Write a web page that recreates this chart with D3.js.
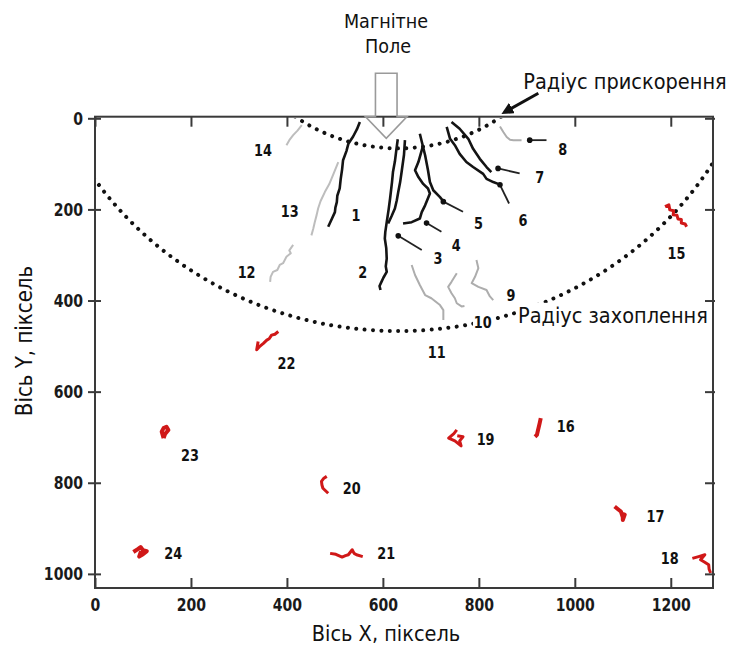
<!DOCTYPE html>
<html>
<head>
<meta charset="utf-8">
<script src="https://cdn.jsdelivr.net/npm/d3@7"></script>
<style>
  body { margin: 0; background: #fff; }
  svg { display: block; font-family: "DejaVu Sans", Verdana, sans-serif; }
</style>
</head>
<body>
<div id="chart"></div>
<script>
// axis ticks (camera pixels)
const xTicks = [0, 200, 400, 600, 800, 1000, 1200];
const yTicks = [0, 200, 400, 600, 800, 1000];

// trajectories inside the acceleration zone (black)
const blackIds = [1, 2, 3, 4, 5, 6, 7];
const blackTracks = [
  [[552,8],[546,24],[538,40],[528,56],[524,72],[517,92],[515,112],[512,134],[510,154],[505,170],[504,184],[501,196],[500,206],[493,222],[486,238]],
  [[631,46],[628,70],[625,95],[621,118],[619,140],[615,176],[612,200],[608,228],[605,250],[604,264],[607,285],[608,308],[606,325],[608,337],[601,350],[597,359],[593,368],[595,377]],
  [[646,48],[644,80],[639,118],[636,140],[632,162],[629,180],[625,198],[618,215],[611,231]],
  [[684,59],[674,96],[667,114],[674,129],[684,144],[694,154],[698,165],[688,191],[681,206],[677,220],[660,228],[642,231]],
  [[677,34],[688,81],[694,114],[698,140],[705,158],[719,173],[726,182]],
  [[733,19],[740,45],[750,59],[760,78],[774,96],[788,107],[809,122],[816,133],[830,140],[840,144]],
  [[743,8],[760,23],[778,45],[788,67],[802,89],[816,107],[826,118]]
];

// trajectories between the two radii (grey)
const grayIds = [8, 9, 10, 11, 12, 13, 14];
const grayTracks = [
  [[844,18],[851,30],[858,41],[865,47],[872,48],[889,48]],
  [[795,311],[799,329],[792,348],[785,362],[799,370],[816,377],[823,391],[830,399]],
  [[754,340],[743,359],[736,370],[743,384],[750,395],[754,406],[764,413],[770,412]],
  [[660,322],[667,344],[677,366],[688,388],[701,395],[719,410],[726,421],[726,443]],
  [[413,278],[405,290],[408,296],[399,304],[392,318],[385,322],[380,333],[371,337],[366,348],[365,359]],
  [[507,96],[496,125],[488,145],[479,162],[470,182],[465,198],[462,212],[458,228],[455,242],[451,257]],
  [[431,15],[422,27],[413,37],[405,48],[399,59]]
];

// trajectories outside the capture radius (red)
const redIds = [15, 16, 17, 18, 19, 20, 21, 22, 23, 24];
const redTracks = [
  [[1188,194],[1196,190],[1198,201],[1206,203],[1205,212],[1213,213],[1215,221],[1222,222],[1222,230],[1230,232],[1233,238]],
  [[929,658],[927,668],[925,677],[923,686],[921,695],[917,699]],
  [[1083,852],[1090,858],[1096,863],[1100,876],[1100,882],[1104,870],[1098,868]],
  [[1245,966],[1258,962],[1271,958],[1262,969],[1270,974],[1279,980],[1280,990],[1283,998]],
  [[754,684],[748,692],[737,702],[750,708],[763,719],[760,708],[767,699],[755,697]],
  [[483,786],[477,790],[472,797],[473,805],[475,812],[486,823]],
  [[490,955],[502,957],[515,963],[522,960],[528,958],[536,947],[540,955],[545,958],[558,962]],
  [[340,490],[337,508],[344,500],[351,494],[358,487],[363,484],[368,476],[375,474],[382,468]],
  [[143,702],[139,688],[143,680],[149,677],[153,684],[146,693],[143,702]],
  [[80,952],[90,945],[95,941],[100,948],[108,950],[100,957],[92,962],[96,950]]
];

// number labels
const labelIds = [1, 2, 3, 4, 5, 6, 7, 8, 9, 10, 11, 12, 13, 14, 15, 16, 17, 18, 19, 20, 21, 22, 23, 24];
const labelPos = [
  [544,212],[558,338],[715,307],[753,278],[799,230],[892,223],[927,129],[975,68],
  [867,387],[808,447],[712,513],[316,337],[406,203],[350,70],[1212,296],[981,675],
  [1168,872],[1198,965],[814,704],[535,812],[607,955],[399,538],[198,739],[163,955]
];

// pointer lines from a track to its label
const pointerIds = [3, 4, 5, 6, 7, 8];
const pointerFrom = [[632,258],[691,230],[726,183],[844,146],[840,110],[906,48]];
const pointerTo = [[681,289],[722,249],[767,205],[863,187],[885,121],[941,48]];

// acceleration and capture radii around one centre
const radiusCentre = [632, -300];
const radiusValues = [366, 767];

const W = 730, H = 646;
const SX = 0.78;   // numbers in the source figure are squeezed horizontally
const SXT = 0.88;  // titles and annotations

const svg = d3.select("#chart").append("svg")
  .attr("width", W).attr("height", H);

const x = d3.scaleLinear().domain([0, 1288]).range([95, 713]);
const y = d3.scaleLinear().domain([-3.5, 1031]).range([116.7, 588]);

const defs = svg.append("defs");
defs.append("clipPath").attr("id", "plotclip")
  .append("rect")
  .attr("x", x(0)).attr("y", y(0))
  .attr("width", x(1288) - x(0)).attr("height", y(1031) - y(0));

defs.append("marker")
  .attr("id", "head").attr("viewBox", "0 0 10 10")
  .attr("refX", 5).attr("refY", 5)
  .attr("markerWidth", 4).attr("markerHeight", 4)
  .attr("orient", "auto")
  .append("path").attr("d", "M0,0 L10,5 L0,10 Z").attr("fill", "#111");

// helper for squeezed text
function label(parent, px, py, str, size, opts = {}) {
  const g = parent.append("g")
    .attr("transform", `translate(${px},${py}) ${opts.rotate ? "rotate(-90)" : ""} scale(${opts.sx || SX},1)`);
  const t = g.append("text")
    .attr("font-size", size)
    .attr("font-weight", opts.weight || "normal")
    .attr("text-anchor", opts.anchor || "middle")
    .attr("dy", opts.dy || "0")
    .attr("fill", "#111")
    .text(str);
  if (opts.bg) {
    const b = t.node().getBBox();
    g.insert("rect", "text")
      .attr("x", b.x - 1).attr("y", b.y).attr("width", b.width + 2).attr("height", b.height)
      .attr("fill", "#fff");
  }
  return g;
}

// dotted radius arcs
svg.append("g").attr("clip-path", "url(#plotclip)")
  .selectAll("ellipse")
  .data(radiusValues)
  .join("ellipse")
  .attr("cx", x(radiusCentre[0]))
  .attr("cy", y(radiusCentre[1]))
  .attr("rx", d => x(radiusCentre[0] + d) - x(radiusCentre[0]))
  .attr("ry", d => y(radiusCentre[1] + d) - y(radiusCentre[1]))
  .attr("fill", "none")
  .attr("stroke", "#111")
  .attr("stroke-width", 4)
  .attr("stroke-linecap", "round")
  .attr("stroke-dasharray", "0.01 8.4");

const line = d3.line().x(d => x(d[0])).y(d => y(d[1]));

svg.append("g").selectAll("path")
  .data(grayTracks)
  .join("path")
  .attr("d", line)
  .attr("fill", "none")
  .attr("stroke", (d, i) => grayIds[i] >= 12 ? "#bdbdbd" : "#adadad")
  .attr("stroke-width", 2)
  .attr("stroke-linejoin", "round");

svg.append("g").selectAll("path")
  .data(blackTracks)
  .join("path")
  .attr("d", line)
  .attr("fill", "none")
  .attr("stroke", "#141414")
  .attr("stroke-width", 2.6)
  .attr("stroke-linejoin", "round");

svg.append("g").selectAll("path")
  .data(redTracks)
  .join("path")
  .attr("d", line)
  .attr("fill", "none")
  .attr("stroke", "#d01818")
  .attr("stroke-width", (d, i) => [16, 17, 23, 24].includes(redIds[i]) ? 4 : 3)
  .attr("stroke-linejoin", "round");

// pointers
const pg = svg.append("g");
pg.selectAll("line")
  .data(pointerIds)
  .join("line")
  .attr("x1", (d, i) => x(pointerFrom[i][0])).attr("y1", (d, i) => y(pointerFrom[i][1]))
  .attr("x2", (d, i) => x(pointerTo[i][0])).attr("y2", (d, i) => y(pointerTo[i][1]))
  .attr("stroke", "#222")
  .attr("stroke-width", 1.8);
pg.selectAll("circle")
  .data(pointerIds)
  .join("circle")
  .attr("cx", (d, i) => x(pointerFrom[i][0])).attr("cy", (d, i) => y(pointerFrom[i][1]))
  .attr("r", 2.8)
  .attr("fill", "#111");

// frame and axes
const axisFont = g => g.attr("font-family", "\"DejaVu Sans\", Verdana, sans-serif")
  .attr("font-size", 18).attr("font-weight", "bold");

const gx = svg.append("g")
  .attr("transform", `translate(0,${y(1031)})`)
  .call(d3.axisBottom(x).tickValues(xTicks).tickFormat(d3.format("d"))
    .tickSize(-10).tickSizeOuter(0).tickPadding(10))
  .call(axisFont);
gx.select(".domain").remove();
gx.selectAll("text").attr("transform", `scale(${SX},1)`).attr("fill", "#1a1a1a");

const gy = svg.append("g")
  .attr("transform", `translate(${x(0)},0)`)
  .call(d3.axisLeft(y).tickValues(yTicks).tickFormat(d3.format("d"))
    .tickSize(7).tickSizeOuter(0).tickPadding(8.5))
  .call(axisFont);
gy.select(".domain").remove();
gy.selectAll("line").attr("x1", 6);
gy.selectAll("text").attr("transform", `scale(${SX},1)`).attr("fill", "#1a1a1a");

const gt = svg.append("g")
  .attr("transform", `translate(0,${y(-3.5)})`)
  .call(d3.axisTop(x).tickValues(xTicks).tickSize(-10).tickSizeOuter(0).tickFormat(""));
gt.select(".domain").remove();

const gr = svg.append("g")
  .attr("transform", `translate(${x(1288)},0)`)
  .call(d3.axisRight(y).tickValues(yTicks).tickSize(-8).tickSizeOuter(0).tickFormat(""));
gr.select(".domain").remove();
gr.selectAll("line").attr("x1", 2);

svg.selectAll(".tick line").attr("stroke", "#3a3a3a").attr("stroke-width", 2);

svg.append("rect")
  .attr("x", x(0)).attr("y", y(-3.5))
  .attr("width", x(1288) - x(0)).attr("height", y(1031) - y(-3.5))
  .attr("fill", "none")
  .attr("stroke", "#3a3a3a")
  .attr("stroke-width", 2);

// number labels
const lg = svg.append("g");
labelIds.forEach((id, i) => {
  label(lg, x(labelPos[i][0]), y(labelPos[i][1]), String(id), 16.5,
        { weight: "bold", dy: "0.36em", bg: id === 10 });
});

// axis titles
label(svg, 386, 641, "Вісь X, піксель", 22, { sx: SXT });
label(svg, 24, 341, "Вісь Y, піксель", 22.5, { rotate: true, dy: "0.36em", sx: SXT });

// magnetic field arrow
const fa = { cx: 607, half: 22.5, head: 43, top: -99, neck: -3.5, tip: 44 };
const arrowPts = [
  [fa.cx - fa.half, fa.top], [fa.cx + fa.half, fa.top], [fa.cx + fa.half, fa.neck],
  [fa.cx + fa.head, fa.neck], [fa.cx, fa.tip], [fa.cx - fa.head, fa.neck],
  [fa.cx - fa.half, fa.neck]
];
svg.append("path")
  .attr("d", line(arrowPts) + "Z")
  .attr("fill", "none")
  .attr("stroke", "#9a9a9a")
  .attr("stroke-width", 1.6);

label(svg, 386, 28, "Магнітне", 20, { sx: SXT });
label(svg, 388, 53, "Поле", 20, { sx: SXT });

// radius annotations
svg.append("line")
  .attr("x1", x(924)).attr("y1", y(-55))
  .attr("x2", x(858)).attr("y2", y(-16))
  .attr("stroke", "#111").attr("stroke-width", 3)
  .attr("marker-end", "url(#head)");
label(svg, 625, 89, "Радіус прискорення", 22, { sx: SXT });
label(svg, 518, 323, "Радіус захоплення", 22, { anchor: "start", bg: true, sx: SXT });
</script>
</body>
</html>
